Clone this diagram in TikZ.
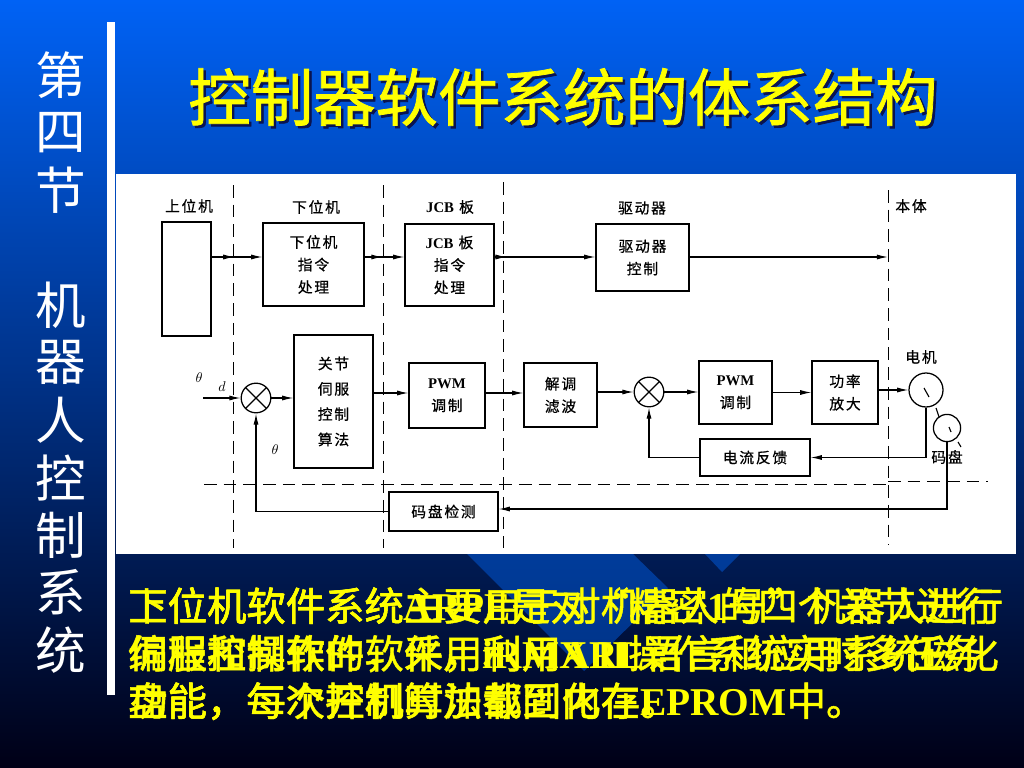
\documentclass[tikz,border=0pt]{standalone}
\usepackage{fontspec}
\usepackage{amsmath}
\usepackage{xcolor}
\usetikzlibrary{arrows.meta,decorations.markings}
\setmainfont{Noto Sans CJK SC}
\newfontfamily\boxfont[LetterSpace=12,FakeBold=0.6]{Noto Sans CJK SC}
\newfontfamily\heavyfont[FakeBold=1.2]{Noto Sans CJK SC}
\newfontfamily\latfont{Liberation Serif}[BoldFont={Liberation Serif Bold}]
\newcommand{\lat}[1]{{\latfont\bfseries #1}}
\newcommand{\boxlat}[1]{{\latfont\bfseries #1}}
\definecolor{slidetop}{RGB}{0,98,245}
\definecolor{slidemid}{RGB}{0,72,190}
\definecolor{slidelow}{RGB}{0,0,22}
\definecolor{slidelight}{RGB}{0,100,240}
\definecolor{titleshade}{RGB}{10,20,80}
\definecolor{bodyyellow}{RGB}{255,255,0}
\tikzset{
    tiparrow/.tip={Latex[length=8pt,width=3.6pt]},
    boxsize/.style 2 args={minimum width=#1*0.025cm, minimum height=#2*0.025cm},
    block/.style={draw, line width=0.9pt, inner sep=0pt, align=center, font=\boxfont\fontsize{10.5}{16}\selectfont},
    tag/.style={inner sep=0pt, font=\boxfont\fontsize{10.5}{16}\selectfont},
    sumjoint/.style={circle, draw, line width=0.9pt, inner sep=0pt, minimum size=0.74cm,
        path picture={
            \draw[line width=0.9pt] (path picture bounding box.north west) -- (path picture bounding box.south east);
            \draw[line width=0.9pt] (path picture bounding box.north east) -- (path picture bounding box.south west);}},
    wheel/.style={circle, draw, line width=0.9pt, inner sep=0pt},
    flow/.style={line width=0.8pt, -tiparrow},
    midtip/.style={decoration={markings, mark=at position #1 with {\arrow{tiparrow}}}, postaction={decorate}},
    border/.style={line width=0.65pt, dash pattern=on 9pt off 5pt},
    bodytext/.style={anchor=north west, inner sep=0pt, align=left, text=bodyyellow, font=\heavyfont\fontsize{28}{33.8}\selectfont},
    sidechar/.style={text=white, inner sep=0pt, font=\fontsize{36}{36}\selectfont},
    headline/.style={font=\heavyfont\fontsize{44.4}{50}\selectfont},
}

\begin{document}
\begin{tikzpicture}[x=0.025cm, y=-0.025cm]
    \useasboundingbox (0,0) rectangle (1024,768);
    % background
    \shade[top color=slidetop, middle color=slidemid, bottom color=slidelow] (0,0) rectangle (1024,768);
    \fill[slidelight, opacity=0.45] (467,554) -- (633,554) -- (668,588) -- (584,671) -- cycle;
    \fill[slidelight, opacity=0.45] (705,554) -- (740,554) -- (722,572) -- cycle;
    \fill[white] (107,22) rectangle (115,695);
    \fill[white] (116,174) rectangle (1016,554);

    % side title
    \foreach \ch/\ypos in {第/75, 四/133, 节/190, 机/305, 器/362, 人/420, 控/478, 制/535, 系/592, 统/650}
        \node[sidechar] at (61,\ypos) {\ch};

    % title
    \node[headline, text=titleshade] at (565.5,99.5) {控制器软件系统的体系结构};
    \node[headline, text=bodyyellow] (title) at (563,97) {控制器软件系统的体系结构};

    % blocks
    \node[block, boxsize={49}{114}] (host) at (186.5,279) {};
    \node[block, boxsize={101}{83}] (lower) at (313.5,264.5) {下位机\\指令\\处理};
    \node[block, boxsize={89}{82}] (jcb) at (449.5,265) {\boxlat{JCB} 板\\指令\\处理};
    \node[block, boxsize={93}{67}] (drive) at (642.5,257.5) {驱动器\\控制};
    \node[block, boxsize={79}{133}, font=\boxfont\fontsize{10.5}{18}\selectfont] (servo) at (333.5,401.5) {关节\\伺服\\控制\\算法};
    \node[block, boxsize={76}{65}] (pwma) at (447,395.5) {\boxlat{PWM}\\调制};
    \node[block, boxsize={73}{64}] (demod) at (560.5,395) {解调\\滤波};
    \node[block, boxsize={73}{63}] (pwmb) at (735.5,392.5) {\boxlat{PWM}\\调制};
    \node[block, boxsize={66}{63}] (power) at (845,392.5) {功率\\放大};
    \node[block, boxsize={110}{37}] (current) at (755,457.5) {电流反馈};
    \node[block, boxsize={109}{39}] (encoder) at (443.5,511.5) {码盘检测};
    \node[sumjoint] (sumA) at (256,398) {};
    \node[sumjoint] (sumB) at (649,392) {};
    \node[wheel, minimum size=0.85cm] (motor) at (926,390) {};
    \node[wheel, minimum size=0.68cm] (disc) at (947,428) {};

    % headings and small labels
    \node[tag] (hosttag) at (189,206) {上位机};
    \node[tag] (lowertag) at (316,207) {下位机};
    \node[tag] (jcbtag) at (450,207) {\boxlat{JCB} 板};
    \node[tag] (drivetag) at (642,208) {驱动器};
    \node[tag] (bodytag) at (911,206) {本体};
    \node[tag] (motortag) at (921,357) {电机};
    \node[tag] (disctag) at (947,457) {码盘};
    \node[inner sep=0pt] (thetaA) at (199,378) {$\theta$};
    \node[inner sep=0pt] (dtag) at (222,387) {$d$};
    \node[inner sep=0pt] (thetaB) at (275,450) {$\theta$};

    % region borders
    \coordinate (northA) at (233,185);
    \coordinate (southA) at (233,548);
    \coordinate (northB) at (383,185);
    \coordinate (southB) at (383,548);
    \coordinate (northC) at (503,182);
    \coordinate (southC) at (503,548);
    \coordinate (northD) at (888,190);
    \coordinate (southD) at (888,545);
    \coordinate (westE) at (204,484);
    \coordinate (cornerE) at (888,481);
    \coordinate (eastE) at (988,481);
    \draw[border] (northA) -- (southA);
    \draw[border] (northB) -- (southB);
    \draw[border] (northC) -- (southC);
    \draw[border] (northD) -- (southD);
    \draw[border] (westE) -- (cornerE |- westE);
    \draw[border] (cornerE) -- (eastE);

    % connectors, top row
    \coordinate (toprow) at (0,257);
    \coordinate (midrow) at (0,393);
    \coordinate (lowrow) at (0,509);
    \draw[flow, midtip=0.45] (host.east |- toprow) -- (lower.west |- toprow);
    \draw[flow, midtip=0.45] (lower.east |- toprow) -- (jcb.west |- toprow);
    \draw[flow, midtip=0.12] (jcb.east |- toprow) -- (drive.west |- toprow);
    \draw[flow] (drive.east |- toprow) -- (northD |- toprow);

    % connectors, middle row
    \coordinate (inlet) at (203,398);
    \draw[flow] (inlet) -- (sumA.west);
    \draw[flow] (sumA.east) -- (servo.west |- sumA);
    \draw[flow] (servo.east |- midrow) -- (pwma.west |- midrow);
    \draw[flow] (pwma.east |- midrow) -- (demod.west |- midrow);
    \draw[flow] (demod.east |- sumB) -- (sumB.west);
    \draw[flow] (sumB.east) -- (pwmb.west |- sumB);
    \draw[flow] (pwmb.east) -- (power.west);
    \draw[flow] (power.east |- motor) -- (motor.west);

    % feedback
    \draw[flow] (motor.south) -- (motor.south |- current) -- (current.east);
    \draw[flow] (current.west) -- (sumB.south |- current) -- (sumB.south);
    \draw[flow] (disc.south) -- (disc.south |- lowrow) -- (encoder.east |- lowrow);
    \draw[flow] (encoder.west) -- (sumA.south |- encoder) -- (sumA.south);

    % marks on the motor and the disc
    \draw[line width=0.8pt] (924,388) -- (929,397);
    \draw[line width=0.8pt] (949,427) -- (951,432);
    \draw[line width=0.8pt] (936,408) -- (939,417);
    \draw[line width=0.8pt] (958,442) -- (961,447);

    % overlapping notes
    \node[bodytext] (noteA) at (128,587) {上位机软件系统\lat{ARPE}是对“精密\lat{1}号”机器人进行\\
        编程和操作的软件，利用\lat{ARL}语言和应用系统磁化\\
        盘能，每次开机时加载到内存。};
    \node[bodytext] (noteB) at (128,587) {下位机软件系统主要用于对机器人的四个关节进行\\
        伺服控制软件，采用\lat{iRMX II}操作系统实时多任务\\
        功能，每个控制算法都固化在\lat{EPROM}中。};
\end{tikzpicture}
\end{document}
